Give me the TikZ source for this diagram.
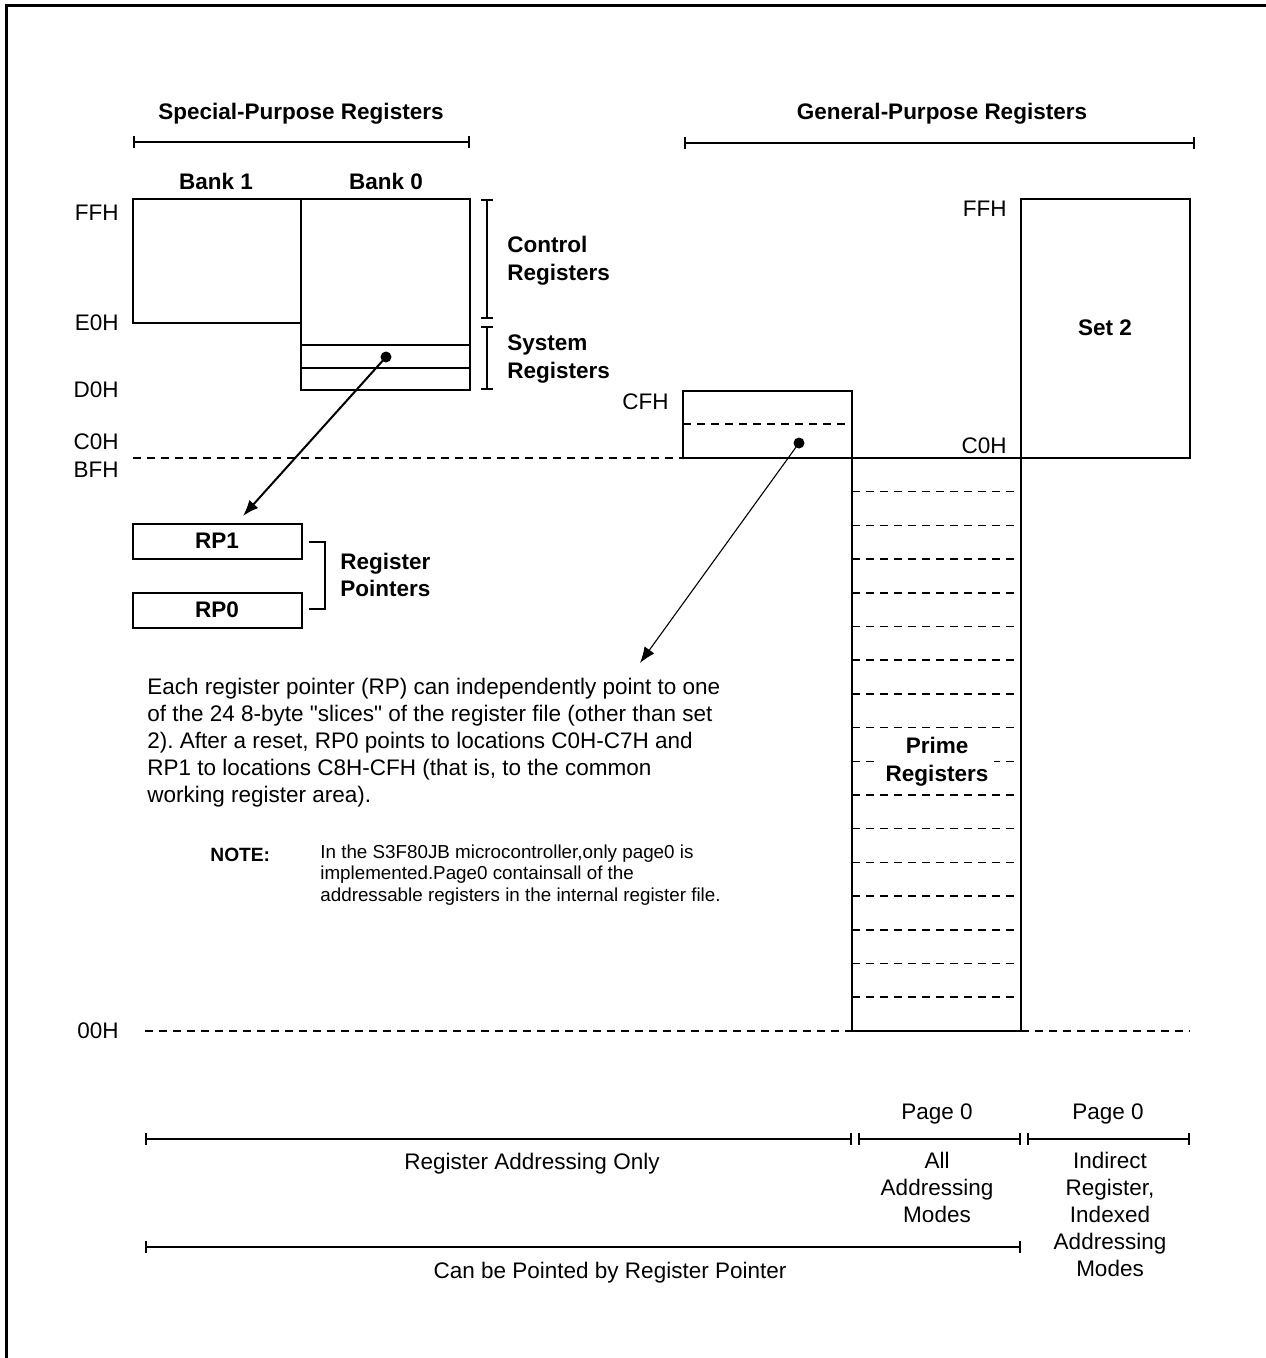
\documentclass[tikz,border=0pt]{standalone}
\usepackage{fontspec}
\setmainfont{Liberation Sans}[Ligatures=TeXOff]
\usetikzlibrary{arrows.meta}
\frenchspacing
\begin{document}
\begin{tikzpicture}[x=0.5pt,y=-0.5pt,
  ln/.style={line width=0.8pt},
  thinln/.style={line width=0.55pt},
  dsh/.style={line width=0.75pt, dash pattern=on 4pt off 3pt},
  dimbar/.style={line width=0.8pt, {Bar[width=6pt]}-{Bar[width=6pt]}},
  txt/.style={inner sep=0pt, font=\fontsize{11.25}{13.5}\selectfont},
  btxt/.style={inner sep=0pt, font=\fontsize{11.25}{13.8}\selectfont\bfseries},
  notetxt/.style={inner sep=0pt, font=\fontsize{9.4}{10.6}\selectfont},
  dot/.style={circle, fill=black, inner sep=0pt, minimum size=5.5pt},
  arr/.style={-{Latex[length=8pt,width=6pt]}}
]
\useasboundingbox (0,0) rectangle (1265,1358);
% frame (open at right and bottom)
\draw[line width=1.5pt] (6,1375) -- (6,6) -- (1285,6);

% headings
\node[btxt] (hsp) at (301,114) {Special-Purpose Registers};
\node[btxt] (hgp) at (942,114) {General-Purpose Registers};
\draw[dimbar] (133,142) -- (470,142);
\draw[dimbar] (684,143) -- (1195,143);

\node[btxt] (bk1) at (216,181) {Bank 1};
\node[btxt] (bk0) at (386,181) {Bank 0};

% bank boxes
\draw[ln] (133,199) rectangle (301,323);
\draw[ln] (301,199) rectangle (470,390);
\draw[ln] (301,345) -- (470,345);
\draw[ln] (301,368) -- (470,368);

% brackets control / system
\draw[dimbar] (487,199) -- (487,319);
\draw[dimbar] (487,326) -- (487,390);
\node[btxt, align=left, anchor=west] (ctrl) at (507,261) {Control\\Registers};
\node[btxt, align=left, anchor=west] (sys) at (507,359) {System\\Registers};

% left address labels
\node[txt, anchor=east] (aFF) at (119,213) {FFH};
\node[txt, anchor=east] (aE0) at (119,323) {E0H};
\node[txt, anchor=east] (aD0) at (119,390) {D0H};
\node[txt, anchor=east] (aC0) at (119,442) {C0H};
\node[txt, anchor=east] (aBF) at (119,470) {BFH};
\node[txt, anchor=east] (a00) at (119,1031) {00H};

% dashed C0H/BFH boundary
\draw[dsh] (133,458) -- (683,458);

% CF box
\draw[ln] (683,391) rectangle (852,458);
\draw[dsh] (683,424) -- (852,424);
\node[txt, anchor=east] (aCF) at (669,402) {CFH};

% set 2 box
\draw[ln] (1021,199) rectangle (1190,458);
\node[btxt] (set2) at (1105,328) {Set 2};
\node[txt, anchor=east] (rFF) at (1007,209) {FFH};
\node[txt, anchor=east] (rC0) at (1007,446) {C0H};
\draw[ln] (852,458) -- (1021,458);

% prime register column
\draw[ln] (852,391) -- (852,1031) -- (1021,1031) -- (1021,458);
\foreach \k in {1,...,16}
  \draw[dsh] (852,{458+\k*33.7}) -- (1021,{458+\k*33.7});
\node[btxt, align=center, fill=white, inner xsep=3pt] (prime) at (937,762) {Prime\\Registers};

% 00H dashed line
\draw[dsh] (145,1031) -- (852,1031);
\draw[dsh] (1021,1031) -- (1190,1031);

% register pointers
\draw[ln] (133,524) rectangle (302,559);
\draw[ln] (133,593) rectangle (302,628);
\node[btxt] (rp1) at (217,541) {RP1};
\node[btxt] (rp0) at (217,610) {RP0};
\draw[ln] (309,542) -- (325,542) -- (325,609) -- (309,609);
\node[btxt, align=left, anchor=west] (rpl) at (340,575) {Register\\Pointers};

% dots and arrows
\node[dot] (d1) at (386,357) {};
\coordinate (t1) at (243,516);
\draw[line width=1pt, arr] (d1.center) -- (t1);
\node[dot] (d2) at (799,443) {};
\coordinate (t2) at (640,663);
\draw[thinln, arr] (d2.center) -- (t2);

% paragraph
\node[txt, align=left, anchor=west] (para) at (147,743) {Each register pointer (RP) can independently point to one\\of the 24 8-byte "slices" of the register file (other than set\\2). After a reset, RP0 points to locations C0H-C7H and\\RP1 to locations C8H-CFH (that is, to the common\\working register area).};

\node[inner sep=0pt, font=\fontsize{9.6}{10.5}\selectfont\bfseries, anchor=west] (note) at (210,855) {NOTE:};
\node[notetxt, align=left, anchor=west] (notebody) at (320,875) {In the S3F80JB microcontroller,only page0 is\\implemented.Page0 containsall of the\\addressable registers in the internal register file.};

% bottom dimension bars
\node[txt] (pg0a) at (937,1114) {Page 0};
\node[txt] (pg0b) at (1108,1114) {Page 0};
\draw[dimbar] (145,1139) -- (852,1139);
\draw[dimbar] (858,1139) -- (1021,1139);
\draw[dimbar] (1027,1139) -- (1190,1139);
\node[txt] (rao) at (532,1164) {Register Addressing Only};
\node[txt, align=center, anchor=north] (allm) at (937,1152) {All\\Addressing\\Modes};
\node[txt, align=center, anchor=north] (indm) at (1110,1152) {Indirect\\Register,\\Indexed\\Addressing\\Modes};
\draw[dimbar] (145,1247) -- (1021,1247);
\node[txt] (cbp) at (610,1273) {Can be Pointed by Register Pointer};
\end{tikzpicture}
\end{document}
